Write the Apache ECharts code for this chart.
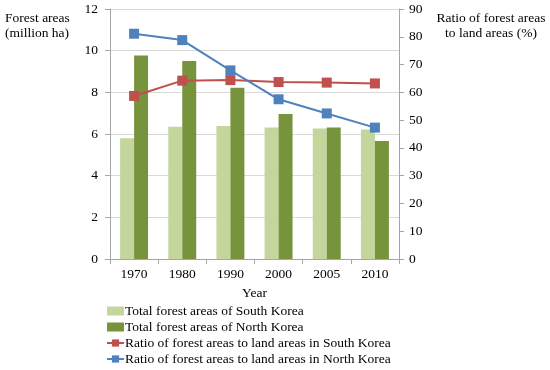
<!DOCTYPE html>
<html><head><meta charset="utf-8">
<script src="https://cdn.jsdelivr.net/npm/echarts@6/dist/echarts.min.js"></script>
<style>html,body{margin:0;padding:0;background:#fff}#c{width:550px;height:370px}</style>
</head><body><div id="c"></div>
<script>
const years = ['1970','1980','1990','2000','2005','2010'];
const southArea = [5.80, 6.35, 6.38, 6.31, 6.26, 6.22];
const northArea = [9.77, 9.50, 8.22, 6.96, 6.31, 5.67];
const southRatio = [58.7, 64.2, 64.4, 63.7, 63.5, 63.2];
const northRatio = [81.1, 78.8, 67.9, 57.5, 52.4, 47.3];
const seriesNames = ['Total forest areas of South Korea','Total forest areas of North Korea',
  'Ratio of forest areas to land areas in South Korea','Ratio of forest areas to land areas in North Korea'];

const font = 'Liberation Serif';
const chart = echarts.init(document.getElementById('c'));
const axisLine = {show:true, lineStyle:{color:'#a6a6a6', width:1}};
chart.setOption({
  animation:false,
  textStyle:{fontFamily:font},
  grid:{left:110, right:151, top:9, bottom:111},
  legend:{
    orient:'vertical', left:106, top:304, height:90, itemGap:2, itemWidth:17, itemHeight:9,
    padding:0,
    textStyle:{fontFamily:font, fontSize:13.5, color:'#000', padding:[0,0,0,-4]},
    data:[{name:seriesNames[0], icon:'rect'},{name:seriesNames[1], icon:'rect'},
          {name:seriesNames[2]},{name:seriesNames[3]}]
  },
  xAxis:{
    type:'category', data:years,
    name:'Year', nameLocation:'middle', nameGap:27,
    nameTextStyle:{fontFamily:font, fontSize:13.5, color:'#000'},
    axisLine:axisLine,
    axisTick:{show:true, length:5, lineStyle:{color:'#a6a6a6'}},
    axisLabel:{fontFamily:font, fontSize:13.5, color:'#000', margin:8}
  },
  yAxis:[
    {type:'value', min:0, max:12, interval:2, axisLine:axisLine,
     axisTick:{show:true, length:5, lineStyle:{color:'#a6a6a6'}},
     axisLabel:{fontFamily:font, fontSize:13.5, color:'#000', margin:12},
     splitLine:{show:true, lineStyle:{color:'#d9d9d9'}}},
    {type:'value', min:0, max:90, interval:10, position:'right', axisLine:axisLine,
     axisTick:{show:true, length:5, lineStyle:{color:'#a6a6a6'}},
     axisLabel:{fontFamily:font, fontSize:13.5, color:'#000', margin:10},
     splitLine:{show:false}}
  ],
  graphic:[
    {type:'text', x:5, y:11, style:{text:'Forest areas\n(million ha)', font:'13.5px "Liberation Serif"', fill:'#000', lineHeight:15}},
    {type:'text', x:491, y:11, style:{text:'Ratio of forest areas\nto land areas (%)', font:'13.5px "Liberation Serif"', fill:'#000', lineHeight:15, textAlign:'center'}}
  ],
  series:[
    {name:seriesNames[0], type:'bar', data:southArea, yAxisIndex:0, barGap:'0%', barCategoryGap:'42%',
     itemStyle:{color:'#c3d69b'}},
    {name:seriesNames[1], type:'bar', data:northArea, yAxisIndex:0,
     itemStyle:{color:'#77933c'}},
    {name:seriesNames[2], type:'line', data:southRatio, yAxisIndex:1, symbol:'rect', symbolSize:10,
     lineStyle:{color:'#c0504d', width:2}, itemStyle:{color:'#c0504d'}},
    {name:seriesNames[3], type:'line', data:northRatio, yAxisIndex:1, symbol:'rect', symbolSize:10,
     lineStyle:{color:'#4f81bd', width:2}, itemStyle:{color:'#4f81bd'}}
  ]
});
</script></body></html>
